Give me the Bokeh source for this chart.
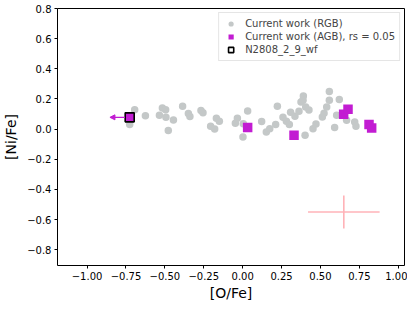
from bokeh.plotting import figure
from bokeh.models import FixedTicker, Arrow, NormalHead, Legend, LegendItem, Range1d
from bokeh.embed import file_html
from bokeh.resources import INLINE

# RGB data (gray)
rgb_ofe = [-0.694, -0.726, -0.625, -0.516, -0.495, -0.535, -0.493, -0.445, -0.478, -0.386,
           -0.349, -0.339, -0.268, -0.255, -0.169, -0.150, -0.206, -0.180, -0.034, -0.047,
           0.004, 0.032, 0.002, 0.122, 0.152, 0.174, 0.212, 0.223, 0.259, 0.281,
           0.300, 0.308, 0.336, 0.362, 0.375, 0.390, 0.388, 0.405, 0.426, 0.401,
           0.452, 0.471, 0.512, 0.523, 0.540, 0.557, 0.557, 0.621, 0.604, 0.668,
           0.591, 0.720, 0.728]
rgb_nife = [0.129, 0.030, 0.089, 0.140, 0.129, 0.092, 0.078, 0.061, -0.010, 0.151,
            0.103, 0.083, 0.123, 0.109, 0.072, 0.052, 0.019, 0.001, 0.072, 0.039,
            0.036, 0.120, -0.052, 0.050, -0.019, 0.003, 0.030, 0.151, 0.078, 0.052,
            0.030, 0.111, 0.085, 0.118, 0.180, 0.220, 0.191, 0.147, 0.127, -0.041,
            0.003, 0.034, 0.081, 0.105, 0.147, 0.191, 0.250, 0.197, 0.092, 0.058,
            0.010, 0.047, 0.019]

# AGB data (purple)
agb_ofe = [-0.726, 0.032, 0.330, 0.649, 0.677, 0.812, 0.829]
agb_nife = [0.078, 0.010, -0.041, 0.098, 0.131, 0.030, 0.008]

# Highlighted star
star_ofe = [-0.726]
star_nife = [0.078]
star_arrow_end = [-0.853]

# Typical error bar
err_x = [0.65]
err_y = [-0.55]
err_dx = [0.23]
err_dy = [0.11]

x_ticks = [-1.0, -0.75, -0.5, -0.25, 0.0, 0.25, 0.5, 0.75, 1.0]
y_ticks = [-0.8, -0.6, -0.4, -0.2, 0.0, 0.2, 0.4, 0.6, 0.8]

PURPLE = "#c21cd2"
GRAY = "#c4c8c8"
FONT = "DejaVu Sans"

p = figure(frame_width=347, frame_height=257, output_backend="svg", toolbar_location=None,
           x_range=Range1d(-1.19, 1.04), y_range=Range1d(-0.905, 0.8),
           min_border_left=49, min_border_right=3, min_border_top=8, min_border_bottom=32)
p.xgrid.visible = False
p.ygrid.visible = False
p.outline_line_color = "black"
p.outline_line_width = 1

r_rgb = p.scatter(rgb_ofe, rgb_nife, marker="circle", size=7.5, fill_color=GRAY,
                  line_color=GRAY, line_width=0)
r_agb = p.scatter(agb_ofe, agb_nife, marker="square", size=9.5, fill_color=PURPLE,
                  line_color=PURPLE, line_width=0)
r_star = p.scatter(star_ofe, star_nife, marker="square", size=9, fill_color=None,
                   line_color="black", line_width=1.6)

p.add_layout(Arrow(end=NormalHead(size=5, fill_color=PURPLE, line_color=PURPLE),
                   x_start=star_ofe[0] - 0.03, y_start=star_nife[0],
                   x_end=star_arrow_end[0], y_end=star_nife[0],
                   line_color=PURPLE, line_width=1.3))

p.segment(x0=[err_x[0] - err_dx[0]], y0=err_y, x1=[err_x[0] + err_dx[0]], y1=err_y,
          line_color="#ffb3b8", line_width=1.6)
p.segment(x0=err_x, y0=[err_y[0] - err_dy[0]], x1=err_x, y1=[err_y[0] + err_dy[0]],
          line_color="#ffb3b8", line_width=1.6)

def fmt(v, d):
    s = f"{v:.{d}f}"
    return s.replace("-", "\u2212")

p.xaxis.ticker = FixedTicker(ticks=x_ticks)
p.yaxis.ticker = FixedTicker(ticks=y_ticks)
p.xaxis.major_label_overrides = {t: fmt(t, 2) for t in x_ticks}
p.yaxis.major_label_overrides = {t: fmt(t, 1) for t in y_ticks}

for ax in (p.xaxis, p.yaxis):
    ax.minor_tick_line_color = None
    ax.major_tick_in = 0
    ax.major_tick_out = 3
    ax.axis_line_color = None
    ax.major_label_text_font = FONT
    ax.major_label_text_font_size = "10px"
    ax.major_label_text_color = "black"
    ax.axis_label_text_font = FONT
    ax.axis_label_text_font_size = "14px"
    ax.axis_label_text_font_style = "normal"
    ax.axis_label_text_color = "black"
    ax.major_label_standoff = 3

p.xaxis.axis_label = "[O/Fe]"
p.yaxis.axis_label = "[Ni/Fe]"
p.xaxis.axis_label_standoff = 2
p.yaxis.axis_label_standoff = 5

legend = Legend(items=[
    LegendItem(label="Current work (RGB)", renderers=[r_rgb]),
    LegendItem(label="Current work (AGB), rs = 0.05", renderers=[r_agb]),
    LegendItem(label="N2808_2_9_wf", renderers=[r_star]),
], location="top_right")
legend.label_text_font = FONT
legend.label_text_font_size = "10px"
legend.label_height = 11
legend.glyph_height = 13
legend.glyph_width = 15
legend.spacing = 0
legend.padding = 4
legend.margin = 4
legend.border_line_color = "#cccccc"
legend.border_line_width = 1
legend.label_standoff = 7
p.add_layout(legend)

open("out.html", "w").write(file_html(p, INLINE))
